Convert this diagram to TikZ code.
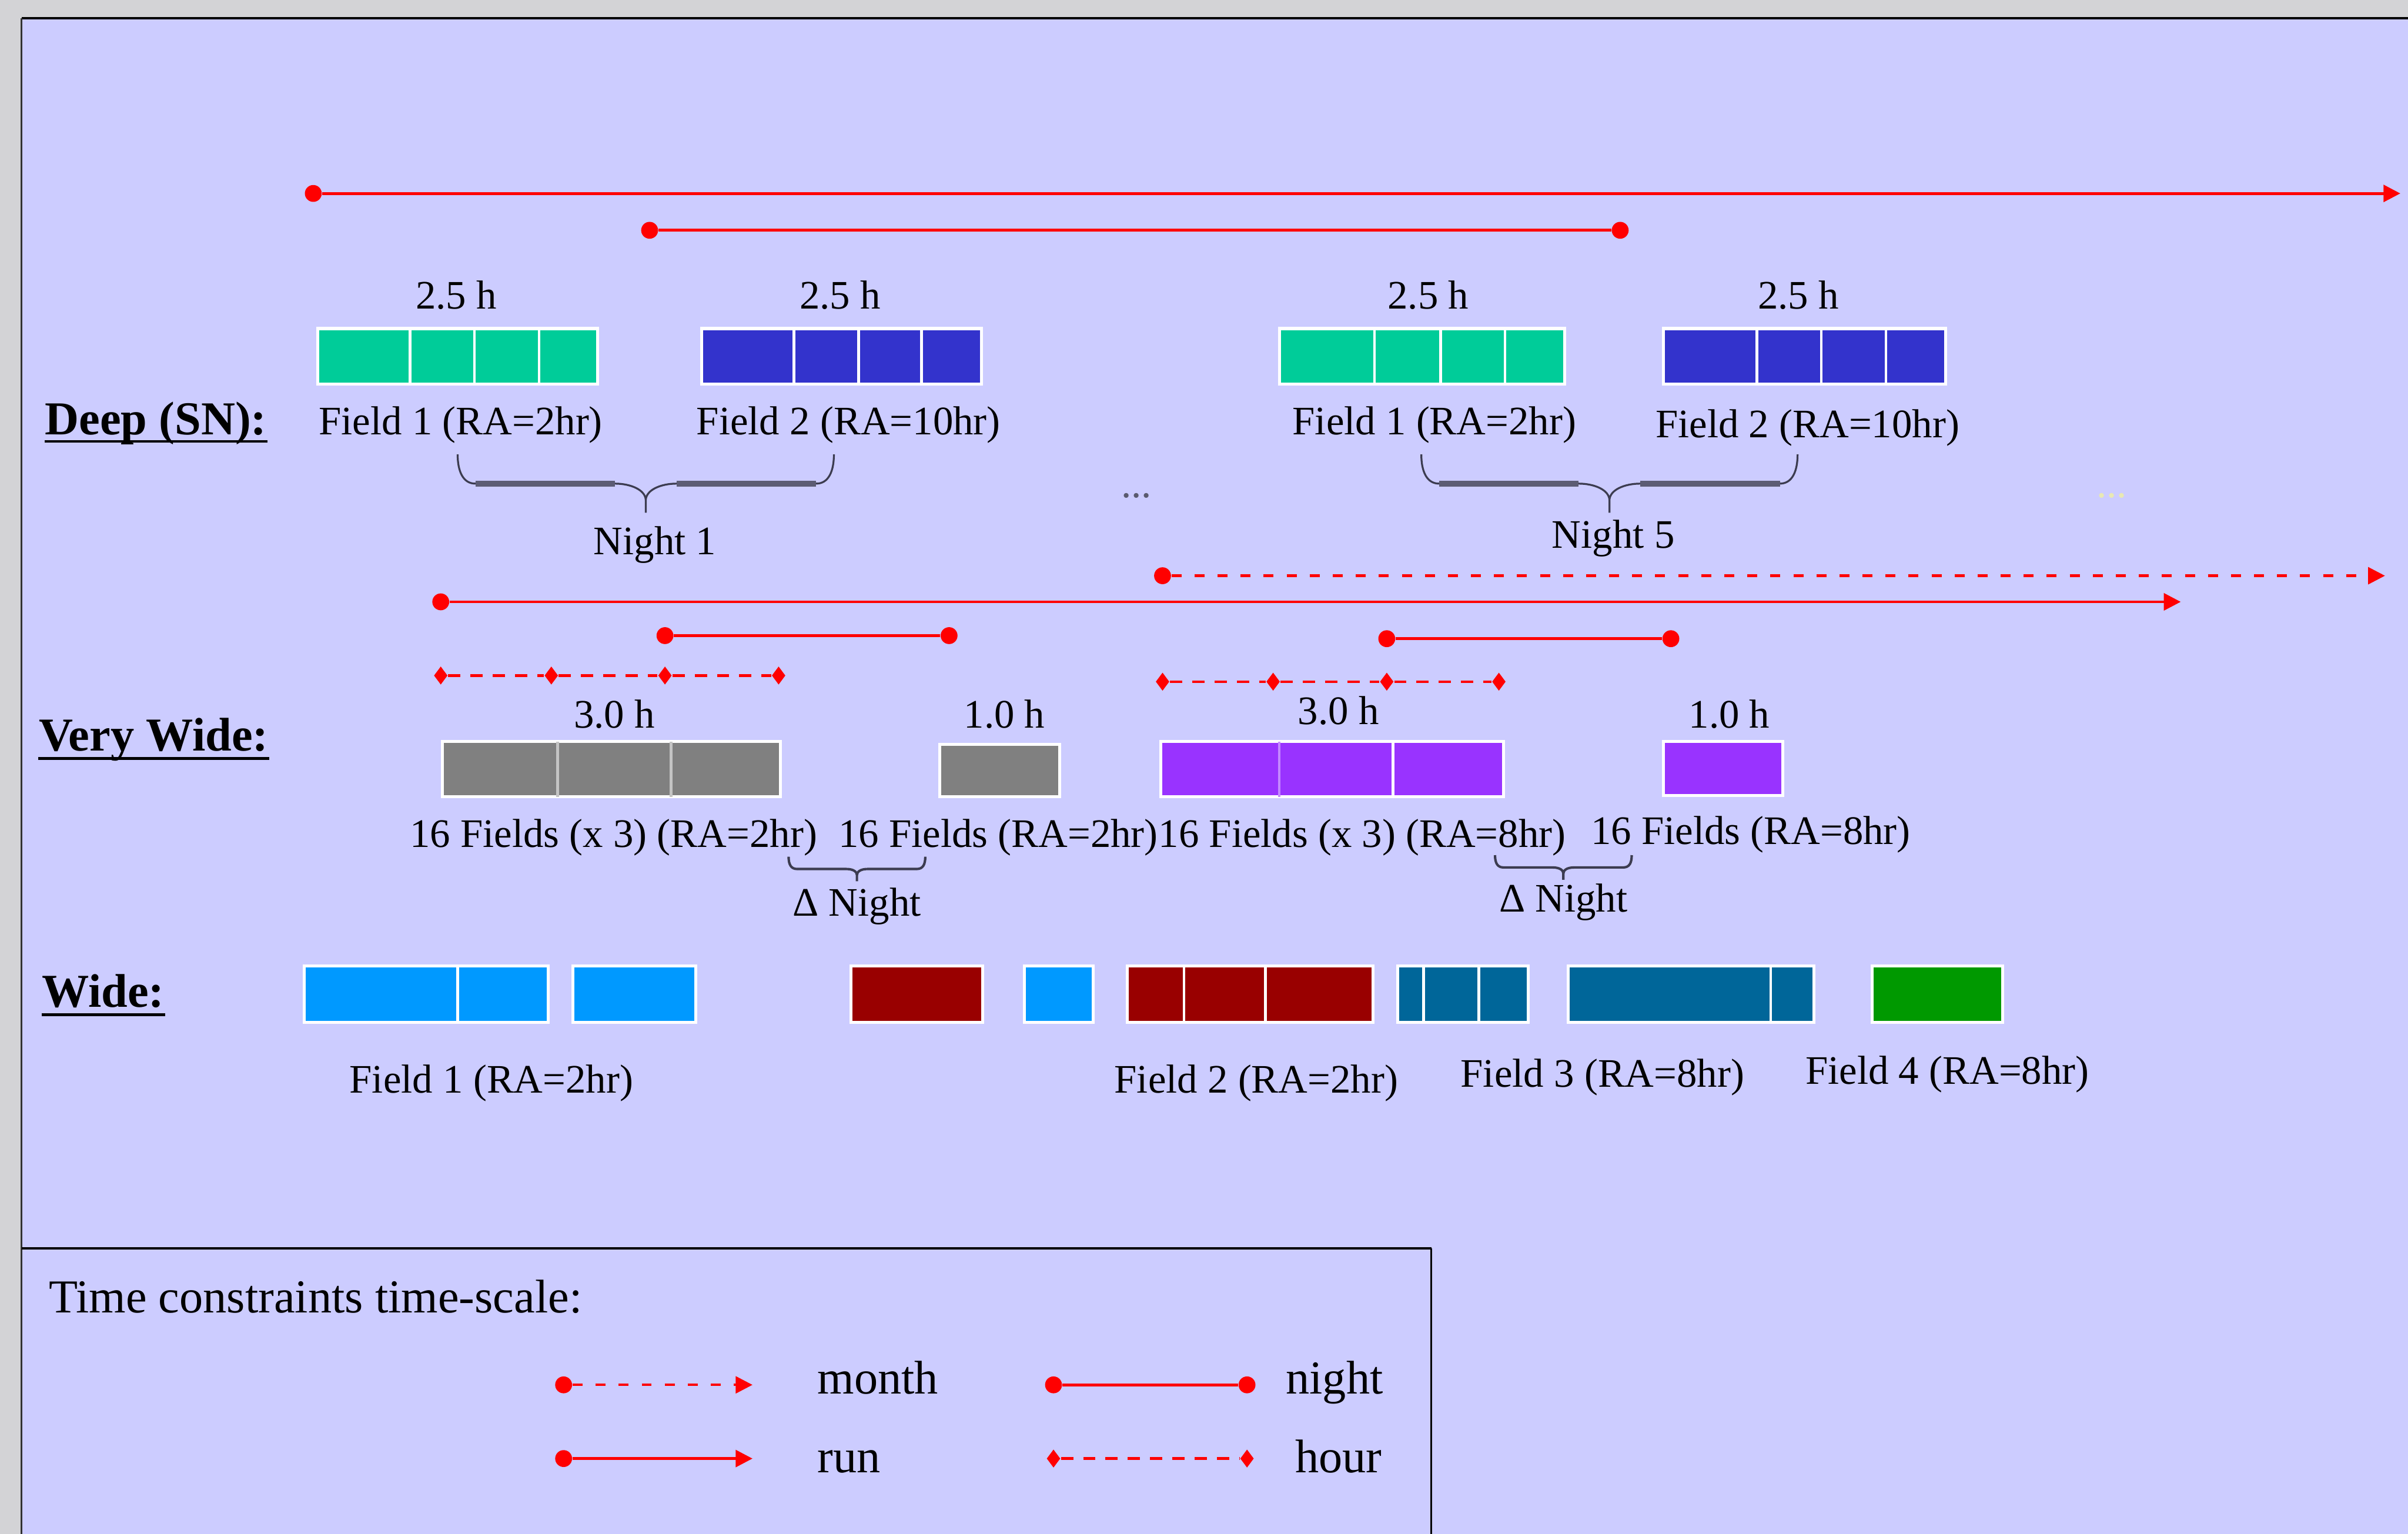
\documentclass[tikz,border=0pt]{standalone}
\usepackage{fontspec}
\setmainfont{Liberation Serif}
\usetikzlibrary{arrows.meta,shapes.geometric}
\definecolor{panel}{HTML}{CCCCFF}
\definecolor{outer}{HTML}{D3D3D6}
\definecolor{deepgreen}{HTML}{00CC99}
\definecolor{deepblue}{HTML}{3333CC}
\definecolor{vwgray}{HTML}{808080}
\definecolor{vwgraysep}{HTML}{C4C4C4}
\definecolor{vwpurple}{HTML}{9933FF}
\definecolor{vwpurplesep}{HTML}{C488FF}
\definecolor{wblue}{HTML}{0099FF}
\definecolor{wred}{HTML}{990000}
\definecolor{wteal}{HTML}{006699}
\definecolor{wgreen}{HTML}{009900}
\definecolor{bracecurve}{HTML}{3C3C50}
\definecolor{bracebar}{HTML}{5C5C74}
\definecolor{dotsgray}{HTML}{5A5A6E}
\definecolor{dotsyellow}{HTML}{E8E8B4}

\begin{document}
\begin{tikzpicture}[x=0.02cm,y=-0.02cm,
  lbl/.style={inner sep=0pt, anchor=base, font=\fontsize{15pt}{18pt}\selectfont},
  head/.style={inner sep=0pt, anchor=base west, font=\fontsize{17.5pt}{21pt}\selectfont\bfseries},
  legtxt/.style={inner sep=0pt, anchor=base west, font=\fontsize{17.5pt}{21pt}\selectfont},
  uline/.style={black, line width=1pt},
  tdot/.style={circle, fill=red, inner sep=0pt, minimum size=0.22cm},
  tdia/.style={diamond, fill=red, inner sep=0pt, minimum width=0.18cm, minimum height=0.24cm},
  tline/.style={red, line width=1.05pt},
  tdash/.style={red, line width=0.95pt, dash pattern=on 0.13cm off 0.17cm},
  hdash/.style={red, line width=0.95pt, dash pattern=on 0.16cm off 0.13cm},
  tarrow/.style={-{Triangle[length=0.22cm,width=0.22cm]}},
  cellbox/.style={draw=white, line width=1.1pt},
  cellsep/.style={white, line width=1pt},
  bigbrace/.pic={
    \draw[bracecurve, line width=0.7pt]
      (-122.5,-19) .. controls (-122.5,-8) and (-119,0) .. (-111,0)
      -- (-20,0) .. controls (-10,0) and (0,4) .. (0,11) -- (0,19)
      (0,11) .. controls (0,4) and (10,0) .. (20,0)
      -- (111,0) .. controls (119,0) and (122.5,-8) .. (122.5,-19);
    \draw[bracebar, line width=2.2pt] (-111,0) -- (-20,0) (20,0) -- (111,0);
  },
  smallbrace/.pic={
    \draw[bracecurve, line width=0.9pt]
      (-44.5,-8) .. controls (-44.5,-3) and (-43,0) .. (-39,0)
      -- (-7,0) .. controls (-2,0) and (0,2) .. (0,4) -- (0,8)
      (0,4) .. controls (0,2) and (2,0) .. (7,0)
      -- (39,0) .. controls (43,0) and (44.5,-3) .. (44.5,-8);
  },
]
\useasboundingbox (0,0) rectangle (1568,999);

% frame and panel
\fill[outer] (0,0) rectangle (1568,999);
\fill[panel] (14,12) rectangle (1568,999);
\draw[black, line width=0.8pt] (14,12) -- (1568,12);
\draw[black!80, line width=0.5pt] (14,12) -- (14,999);

% ---------------- Deep (SN) ----------------
\node[tdot] (r1a) at (204,126) {};
\coordinate (r1b) at (1563,126);
\draw[tline,tarrow] (r1a) -- (r1b);
\node[tdot] (n1a) at (423,150) {};
\node[tdot] (n1b) at (1055,150) {};
\draw[tline] (n1a) -- (n1b);

\node[lbl] (d25a) at (297,201) {2.5 h};
\node[lbl] (d25b) at (547,201) {2.5 h};
\node[lbl] (d25c) at (930,201) {2.5 h};
\node[lbl] (d25d) at (1171,201) {2.5 h};

\filldraw[cellbox, fill=deepgreen] (207,214) rectangle (389,250);
\draw[cellsep] (267,214) -- (267,250) (309,214) -- (309,250) (351,214) -- (351,250);
\filldraw[cellbox, fill=deepblue] (457,214) rectangle (639,250);
\draw[cellsep] (517,214) -- (517,250) (559,214) -- (559,250) (600,214) -- (600,250);
\filldraw[cellbox, fill=deepgreen] (833,214) rectangle (1019,250);
\draw[cellsep] (895,214) -- (895,250) (938,214) -- (938,250) (980,214) -- (980,250);
\filldraw[cellbox, fill=deepblue] (1083,214) rectangle (1267,250);
\draw[cellsep] (1144,214) -- (1144,250) (1186,214) -- (1186,250) (1228,214) -- (1228,250);

\node[head] (hdeep) at (29,283) {Deep (SN):};
\draw[uline] ([yshift=-0.09cm]hdeep.base west) -- ([yshift=-0.09cm]hdeep.base east);

\node[lbl] (df1a) at (300,283) {Field 1 (RA=2hr)};
\node[lbl] (df2a) at (552.5,283) {Field 2 (RA=10hr)};
\node[lbl] (df1b) at (934,283) {Field 1 (RA=2hr)};
\node[lbl] (df2b) at (1177,285) {Field 2 (RA=10hr)};

\pic at (420.5,315) {bigbrace};
\pic at (1048,315) {bigbrace};
\node[lbl] (night1) at (426.5,361) {Night 1};
\node[lbl] (night5) at (1050.5,357) {Night 5};
\node[lbl, text=dotsgray] (dotsa) at (740,324) {...};
\node[lbl, text=dotsyellow] (dotsb) at (1375,324) {...};

% ---------------- Very Wide ----------------
\node[tdot] (m1a) at (757,375) {};
\coordinate (m1b) at (1553,375);
\draw[tdash,tarrow] (m1a) -- (m1b);
\node[tdot] (r2a) at (287,392) {};
\coordinate (r2b) at (1420,392);
\draw[tline,tarrow] (r2a) -- (r2b);
\node[tdot] (n2a) at (433,414) {};
\node[tdot] (n2b) at (618,414) {};
\draw[tline] (n2a) -- (n2b);
\node[tdot] (n3a) at (903,416) {};
\node[tdot] (n3b) at (1088,416) {};
\draw[tline] (n3a) -- (n3b);

\node[tdia] (h1a) at (287,440) {};
\node[tdia] (h1b) at (359,440) {};
\node[tdia] (h1c) at (433,440) {};
\node[tdia] (h1d) at (507,440) {};
\draw[hdash] (h1a) -- (h1b) (h1b) -- (h1c) (h1c) -- (h1d);
\node[tdia] (h2a) at (757,444) {};
\node[tdia] (h2b) at (829,444) {};
\node[tdia] (h2c) at (903,444) {};
\node[tdia] (h2d) at (976,444) {};
\draw[hdash] (h2a) -- (h2b) (h2b) -- (h2c) (h2c) -- (h2d);

\node[lbl] (v30a) at (400,474) {3.0 h};
\node[lbl] (v10a) at (654,474) {1.0 h};
\node[lbl] (v30b) at (871.5,472) {3.0 h};
\node[lbl] (v10b) at (1126,474) {1.0 h};

\filldraw[cellbox, fill=vwgray] (288,483) rectangle (508,519);
\draw[vwgraysep, line width=1pt] (363,483) -- (363,519) (437,483) -- (437,519);
\filldraw[cellbox, fill=vwgray] (612,485) rectangle (690,519);
\filldraw[cellbox, fill=vwpurple] (756,483) rectangle (979,519);
\draw[vwpurplesep, line width=1pt] (833,483) -- (833,519);
\draw[cellsep] (907,483) -- (907,519);
\filldraw[cellbox, fill=vwpurple] (1083,483) rectangle (1161,518);

\node[head] (hvw) at (25,489) {Very Wide:};
\draw[uline] ([yshift=-0.1cm]hvw.base west) -- ([yshift=-0.1cm]hvw.base east);

\node[lbl] (vf1) at (399.5,552) {16 Fields (x 3) (RA=2hr)};
\node[lbl] (vf2) at (650,552) {16 Fields (RA=2hr)};
\node[lbl] (vf3) at (887,552) {16 Fields (x 3) (RA=8hr)};
\node[lbl] (vf4) at (1140,550) {16 Fields (RA=8hr)};

\pic at (558,566) {smallbrace};
\pic at (1018,565) {smallbrace};
\node[lbl] (dn1) at (558,596.5) {Δ Night};
\node[lbl] (dn2) at (1018,594) {Δ Night};

% ---------------- Wide ----------------
\node[head] (hw) at (27,656) {Wide:};
\draw[uline] ([yshift=-0.1cm]hw.base west) -- ([yshift=-0.1cm]hw.base east);

\filldraw[cellbox, fill=wblue] (198,629) rectangle (357,666);
\draw[cellsep] (298,629) -- (298,666);
\filldraw[cellbox, fill=wblue] (373,629) rectangle (453,666);
\filldraw[cellbox, fill=wred] (554,629) rectangle (640,666);
\filldraw[cellbox, fill=wblue] (667,629) rectangle (712,666);
\filldraw[cellbox, fill=wred] (734,629) rectangle (894,666);
\draw[cellsep] (771,629) -- (771,666) (824,629) -- (824,666);
\filldraw[cellbox, fill=wteal] (910,629) rectangle (995,666);
\draw[cellsep] (927,629) -- (927,666) (963,629) -- (963,666);
\filldraw[cellbox, fill=wteal] (1021,629) rectangle (1181,666);
\draw[cellsep] (1153,629) -- (1153,666);
\filldraw[cellbox, fill=wgreen] (1219,629) rectangle (1304,666);

\node[lbl] (wf1) at (320,712) {Field 1 (RA=2hr)};
\node[lbl] (wf2) at (818,712) {Field 2 (RA=2hr)};
\node[lbl] (wf3) at (1043.5,708) {Field 3 (RA=8hr)};
\node[lbl] (wf4) at (1268,706) {Field 4 (RA=8hr)};

% ---------------- Legend ----------------
\draw[black, line width=0.9pt] (14,813) -- (932,813);
\draw[black, line width=0.5pt] (932,813) -- (932,999);
\node[legtxt] (legtitle) at (31.5,855) {Time constraints time-scale:};

\node[tdot] (lma) at (367,902) {};
\coordinate (lmb) at (490,902);
\draw[tdash,tarrow] (lma) -- (lmb);
\node[legtxt] (lmonth) at (532,908) {month};

\node[tdot] (lna) at (686,902) {};
\node[tdot] (lnb) at (812,902) {};
\draw[tline] (lna) -- (lnb);
\node[legtxt] (lnight) at (837,908) {night};

\node[tdot] (lra) at (367,950) {};
\coordinate (lrb) at (490,950);
\draw[tline,tarrow] (lra) -- (lrb);
\node[legtxt] (lrun) at (532,959) {run};

\node[tdia] (lha) at (686,950) {};
\node[tdia] (lhb) at (812,950) {};
\draw[hdash] (lha) -- (lhb);
\node[legtxt] (lhour) at (843,959) {hour};
\end{tikzpicture}
\end{document}
